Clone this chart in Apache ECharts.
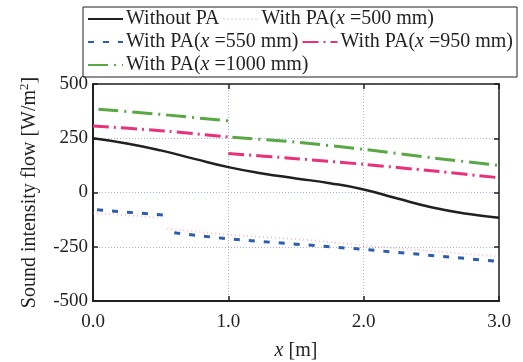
<!DOCTYPE html>
<html>
<head>
<meta charset="utf-8">
<script src="https://cdn.jsdelivr.net/npm/echarts@6/dist/echarts.min.js"></script>
<style>
  html, body { margin: 0; padding: 0; background: #fff; }
  #chart { width: 523px; height: 362px; }
</style>
</head>
<body>
<div id="chart"></div>
<script>
const seriesNames = [
  "Without PA",
  "With PA(x =500 mm)",
  "With PA(x =550 mm)",
  "With PA(x =950 mm)",
  "With PA(x =1000 mm)",
];
const xTicks = [0, 1, 2, 3];
const yTicks = [-500, -250, 0, 250, 500];

// without PA
const xWithout = [0, 0.25, 0.5, 0.75, 1.0, 1.25, 1.5, 1.75, 2.0, 2.25, 2.5, 2.75, 3.0];
const yWithout = [250, 226, 194, 155, 117, 88, 65, 43, 14, -28, -68, -97, -116];

// x = 500 mm (two pieces)
const x500a = [0, 0.5];
const y500a = [-94, -116];
const x500b = [0.55, 1.0, 1.5, 2.0, 2.5, 3.0];
const y500b = [-167, -195, -214, -244, -270, -295];

// x = 550 mm
const x550a = [0.03, 0.55];
const y550a = [-80, -105];
const x550b = [0.6, 1.0, 1.5, 2.0, 2.5, 3.0];
const y550b = [-186, -214, -238, -262, -290, -318];

// x = 950 mm
const x950a = [0, 0.5, 1.0];
const y950a = [307, 285, 256];
const x950b = [1.0, 1.5, 2.0, 2.5, 3.0];
const y950b = [180, 156, 130, 100, 68];

// x = 1000 mm
const x1000a = [0.04, 0.5, 1.0];
const y1000a = [384, 360, 330];
const x1000b = [1.03, 1.5, 2.0, 2.5, 3.0];
const y1000b = [255, 232, 199, 160, 125];

function pts(xs, ys) {
  return xs.map((x, i) => [x, ys[i]]);
}
function broken(xa, ya, xb, yb) {
  return pts(xa, ya).concat([[xa[xa.length - 1], "-"]], pts(xb, yb));
}

const FONT = "Liberation Serif";
const TXT = "#231f20";

const chart = echarts.init(document.getElementById("chart"));

const gridLine = {
  show: true,
  lineStyle: { color: "#a9b5dd", type: [1, 2], width: 1 },
};

function lineSeries(name, data, color, width, type, smooth) {
  return {
    name: name,
    type: "line",
    data: data,
    symbol: "none",
    smooth: smooth,
    connectNulls: false,
    silent: true,
    lineStyle: { color: color, width: width, type: type },
    itemStyle: { color: color },
  };
}

const option = {
  animation: false,
  textStyle: { fontFamily: FONT },
  legend: {
    left: 83,
    top: 7,
    width: 430,
    padding: [2, 4, 2, 4],
    itemGap: 3,
    itemWidth: 35,
    itemHeight: 14,
    borderColor: "#231f20",
    borderWidth: 1,
    data: seriesNames,
    itemStyle: { color: "rgba(0,0,0,0)", borderWidth: 0 },
    formatter: (n) => n.replace("(x ", "({i|x} "),
    textStyle: {
      fontFamily: FONT,
      fontSize: 20,
      color: TXT,
      padding: [0, 0, 0, -2],
      rich: {
        i: { fontFamily: FONT, fontSize: 20, fontStyle: "italic", color: TXT },
      },
    },
  },
  grid: { left: 93, right: 24, top: 84, bottom: 61, outerBoundsMode: "none" },
  xAxis: [
    {
      type: "value",
      min: xTicks[0],
      max: xTicks[xTicks.length - 1],
      interval: 1,
      name: "{i|x} [m]",
      nameLocation: "middle",
      nameGap: 40,
      nameTextStyle: {
        fontFamily: FONT,
        fontSize: 20,
        color: TXT,
        rich: { i: { fontFamily: FONT, fontSize: 20, fontStyle: "italic", color: TXT } },
      },
      axisLine: { show: true, onZero: false, lineStyle: { color: TXT, width: 2 } },
      axisTick: { show: true, inside: true, length: 5, lineStyle: { color: TXT, width: 1.5 } },
      axisLabel: {
        fontFamily: FONT,
        fontSize: 19,
        color: TXT,
        margin: 12,
        formatter: (v) => v.toFixed(1),
      },
      splitLine: gridLine,
    },
    {
      type: "value",
      position: "top",
      min: xTicks[0],
      max: xTicks[xTicks.length - 1],
      interval: 1,
      axisLine: { show: true, onZero: false, lineStyle: { color: TXT, width: 1.5 } },
      axisTick: { show: true, inside: true, length: 5, lineStyle: { color: TXT, width: 1.5 } },
      axisLabel: { show: false },
      splitLine: { show: false },
    },
  ],
  yAxis: [
    {
      type: "value",
      min: yTicks[0],
      max: yTicks[yTicks.length - 1],
      interval: 250,
      name: "Sound intensity flow [W/m{sup|2}]",
      nameLocation: "middle",
      nameGap: 52,
      nameTextStyle: {
        fontFamily: FONT,
        fontSize: 20,
        color: TXT,
        rich: { sup: { fontFamily: FONT, fontSize: 13, color: TXT, verticalAlign: "top", padding: [0, 0, 10, 0] } },
      },
      axisLine: { show: true, onZero: false, lineStyle: { color: TXT, width: 2 } },
      axisTick: { show: true, inside: true, length: 5, lineStyle: { color: TXT, width: 1.5 } },
      axisLabel: { fontFamily: FONT, fontSize: 19, color: TXT, margin: 5 },
      splitLine: gridLine,
    },
    {
      type: "value",
      position: "right",
      min: yTicks[0],
      max: yTicks[yTicks.length - 1],
      interval: 250,
      axisLine: { show: true, onZero: false, lineStyle: { color: "#555", width: 2 } },
      axisTick: { show: true, inside: true, length: 5, lineStyle: { color: TXT, width: 1.5 } },
      axisLabel: { show: false },
      splitLine: { show: false },
    },
  ],
  series: [
    lineSeries(seriesNames[1], broken(x500a, y500a, x500b, y500b), "rgba(240,110,140,0.45)", 2, [1, 3], false),
    lineSeries(seriesNames[2], broken(x550a, y550a, x550b, y550b), "#2b5fae", 3, [6, 9], false),
    lineSeries(seriesNames[3], broken(x950a, y950a, x950b, y950b), "#e8317a", 3, [16, 5, 2, 5], 0.2),
    lineSeries(seriesNames[4], broken(x1000a, y1000a, x1000b, y1000b), "#5aa845", 3, [20, 6, 2, 6], 0.2),
    lineSeries(seriesNames[0], pts(xWithout, yWithout), "#231f20", 2.5, "solid", true),
  ],
};

chart.setOption(option);
</script>
</body>
</html>
